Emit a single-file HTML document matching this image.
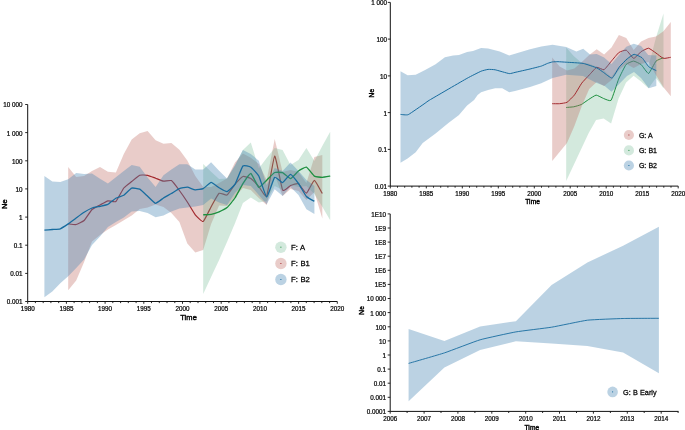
<!DOCTYPE html>
<html><head><meta charset="utf-8"><title>Ne through time</title>
<style>html,body{margin:0;padding:0;background:#fff}svg{display:block}text{font-family:"Liberation Sans",sans-serif;fill:#000;stroke:#000;stroke-width:0.22px}</style>
</head><body>
<svg width="685" height="430" viewBox="0 0 685 430">
<rect width="685" height="430" fill="#fff"/>
<polygon points="68.2,167.0 76.2,177.0 84.1,176.0 92.0,171.0 100.0,167.0 107.9,171.7 115.9,172.5 123.8,154.0 131.7,139.5 139.7,133.3 147.6,131.0 155.6,140.3 163.5,143.8 171.4,143.1 179.4,149.8 187.3,160.5 195.3,176.0 203.2,187.0 211.1,187.0 219.1,183.0 227.0,178.4 235.0,162.5 242.9,153.5 250.8,157.8 258.8,164.0 266.7,180.0 274.7,139.0 282.6,172.0 290.5,170.0 298.5,172.0 306.4,183.0 314.4,157.0 322.3,155.1 322.3,218.5 314.4,192.0 306.4,200.0 298.5,191.0 290.5,189.0 282.6,196.0 274.7,175.0 266.7,205.0 258.8,198.0 250.8,190.0 242.9,188.0 235.0,197.0 227.0,206.0 219.1,205.5 211.1,224.0 203.2,250.0 195.3,252.6 187.3,243.5 179.4,222.0 171.4,213.0 163.5,207.0 155.6,204.5 147.6,207.5 139.7,209.0 131.7,215.5 123.8,220.3 115.9,225.0 107.9,229.5 100.0,235.0 92.0,241.5 84.1,262.0 76.2,280.4 68.2,290.2" fill="rgba(190,105,96,0.34)"/>
<path d="M68.22 223.90C68.75 223.94 75.10 224.73 76.16 224.50C77.22 224.27 83.04 221.50 84.10 220.50C85.16 219.50 90.98 210.53 92.04 209.50C93.10 208.47 98.92 205.58 99.98 205.00C101.04 204.42 106.86 201.03 107.92 200.80C108.98 200.57 114.80 202.35 115.86 201.50C116.92 200.65 122.74 189.33 123.80 188.00C124.86 186.67 130.68 182.35 131.74 181.50C132.80 180.65 138.62 175.61 139.68 175.20C140.74 174.79 146.56 175.10 147.62 175.30C148.68 175.50 154.50 177.81 155.56 178.20C156.62 178.59 162.44 181.04 163.50 181.20C164.56 181.36 170.38 179.98 171.44 180.60C172.50 181.22 178.32 189.07 179.38 190.50C180.44 191.93 186.26 200.38 187.32 202.00C188.38 203.62 194.20 213.50 195.26 214.80C196.32 216.10 202.14 222.04 203.20 221.50C204.26 220.96 210.08 208.58 211.14 206.70C212.20 204.82 218.02 194.08 219.08 193.30C220.14 192.52 225.96 195.59 227.02 195.00C228.08 194.41 233.90 185.63 234.96 184.40C236.02 183.17 241.84 176.89 242.90 176.50C243.96 176.11 249.78 177.83 250.84 178.50C251.90 179.17 257.72 185.33 258.78 186.50C259.84 187.67 265.66 198.03 266.72 196.00C267.78 193.97 273.60 156.40 274.66 156.00C275.72 155.60 281.54 188.03 282.60 190.00C283.66 191.97 289.48 185.91 290.54 185.50C291.60 185.09 297.42 183.29 298.48 183.80C299.54 184.31 305.36 193.43 306.42 193.20C307.48 192.97 313.30 180.28 314.36 180.30C315.42 180.32 321.77 192.62 322.30 193.50" fill="none" stroke="#a3292e" stroke-width="1.2" stroke-linejoin="round"/>
<polygon points="203.2,164.1 211.1,171.7 219.1,178.9 227.0,178.4 235.0,166.0 242.9,150.0 250.8,142.5 258.8,168.4 266.7,158.1 274.7,147.9 282.6,150.0 290.5,165.0 298.5,160.0 306.4,148.1 314.4,161.0 322.3,146.0 330.2,131.7 330.2,220.2 322.3,206.8 314.4,194.0 306.4,186.0 298.5,187.0 290.5,185.0 282.6,190.0 274.7,186.0 266.7,201.0 258.8,202.6 250.8,197.5 242.9,203.0 235.0,223.3 227.0,242.0 219.1,260.0 211.1,277.0 203.2,294.0" fill="rgba(98,176,132,0.28)"/>
<path d="M203.20 214.80C203.73 214.77 210.08 214.50 211.14 214.30C212.20 214.10 218.02 212.25 219.08 211.80C220.14 211.35 225.96 208.52 227.02 207.60C228.08 206.68 233.90 199.60 234.96 198.00C236.02 196.40 241.84 185.23 242.90 183.60C243.96 181.97 249.78 173.25 250.84 173.50C251.90 173.75 257.72 186.85 258.78 187.30C259.84 187.75 265.66 181.19 266.72 180.20C267.78 179.21 273.60 173.00 274.66 172.50C275.72 172.00 281.54 172.29 282.60 172.70C283.66 173.11 289.48 178.71 290.54 178.60C291.60 178.49 297.42 171.76 298.48 171.00C299.54 170.24 305.36 166.86 306.42 167.20C307.48 167.54 313.30 175.42 314.36 176.10C315.42 176.78 321.24 177.40 322.30 177.40C323.36 177.40 329.71 176.19 330.24 176.10" fill="none" stroke="#1c8f3e" stroke-width="1.3" stroke-linejoin="round"/>
<polygon points="44.4,175.9 52.3,181.5 60.3,182.0 68.2,179.2 76.2,172.9 84.1,174.1 92.0,173.4 100.0,178.8 107.9,183.5 115.9,177.3 123.8,170.9 131.7,165.0 139.7,166.8 147.6,177.5 155.6,186.9 163.5,175.2 171.4,169.4 179.4,164.3 187.3,164.3 195.3,169.4 203.2,169.4 211.1,162.3 219.1,170.7 227.0,178.4 235.0,165.0 242.9,150.0 250.8,154.0 258.8,160.7 266.7,185.0 274.7,168.0 282.6,171.0 290.5,162.5 298.5,171.0 306.4,180.0 314.4,185.9 314.4,213.9 306.4,209.3 298.5,195.1 290.5,187.0 282.6,196.0 274.7,189.2 266.7,204.3 258.8,195.0 250.8,186.0 242.9,185.0 235.0,193.0 227.0,205.0 219.1,202.5 211.1,198.4 203.2,205.0 195.3,206.5 187.3,207.6 179.4,208.4 171.4,211.5 163.5,215.5 155.6,217.3 147.6,213.0 139.7,211.0 131.7,211.5 123.8,217.6 115.9,222.0 107.9,227.0 100.0,236.5 92.0,245.0 84.1,259.5 76.2,268.0 68.2,276.2 60.3,283.2 52.3,291.6 44.4,297.2" fill="rgba(70,134,179,0.37)"/>
<path d="M44.40 230.20C44.93 230.15 51.28 229.59 52.34 229.50C53.40 229.41 59.22 229.17 60.28 228.80C61.34 228.43 67.16 224.62 68.22 223.90C69.28 223.18 75.10 218.77 76.16 218.00C77.22 217.23 83.04 212.97 84.10 212.30C85.16 211.63 90.98 208.40 92.04 208.00C93.10 207.60 98.92 206.54 99.98 206.30C101.04 206.06 106.86 204.94 107.92 204.40C108.98 203.86 114.80 198.81 115.86 198.20C116.92 197.59 122.74 195.87 123.80 195.20C124.86 194.53 130.68 188.50 131.74 188.10C132.80 187.70 138.62 188.66 139.68 189.20C140.74 189.74 146.56 195.26 147.62 196.20C148.68 197.14 154.50 203.18 155.56 203.30C156.62 203.42 162.44 198.65 163.50 198.00C164.56 197.35 170.38 194.13 171.44 193.50C172.50 192.87 178.32 189.02 179.38 188.60C180.44 188.18 186.26 187.11 187.32 187.20C188.38 187.29 194.20 189.81 195.26 189.90C196.32 189.99 202.14 189.10 203.20 188.60C204.26 188.10 210.08 182.46 211.14 182.40C212.20 182.34 218.02 187.09 219.08 187.70C220.14 188.31 225.96 191.82 227.02 191.60C228.08 191.38 233.90 186.11 234.96 184.40C236.02 182.69 241.84 167.15 242.90 166.00C243.96 164.85 249.78 166.53 250.84 167.20C251.90 167.87 257.72 174.01 258.78 176.00C259.84 177.99 265.66 196.91 266.72 197.00C267.78 197.09 273.60 178.26 274.66 177.30C275.72 176.34 281.54 182.80 282.60 182.60C283.66 182.40 289.48 174.24 290.54 174.30C291.60 174.36 297.42 182.02 298.48 183.50C299.54 184.98 305.36 195.31 306.42 196.50C307.48 197.69 313.83 200.98 314.36 201.30" fill="none" stroke="#176c9f" stroke-width="1.3" stroke-linejoin="round"/>
<polygon points="566.2,47.5 573.7,56.0 581.2,62.5 588.7,63.5 596.1,66.5 603.6,70.0 611.1,77.0 618.6,67.5 626.1,58.4 633.6,54.3 641.1,57.2 648.5,66.5 656.0,37.5 663.5,13.4 663.5,88.3 656.0,78.1 648.5,88.3 641.1,81.5 633.6,75.8 626.1,82.6 618.6,98.5 611.1,123.4 603.6,118.4 596.1,120.0 588.7,133.0 581.2,149.0 573.7,165.0 566.2,180.9" fill="rgba(98,176,132,0.28)"/>
<path d="M566.20 107.50C566.70 107.45 572.69 106.99 573.69 106.80C574.68 106.61 580.17 105.09 581.17 104.60C582.17 104.11 587.66 100.13 588.66 99.50C589.65 98.87 595.14 95.17 596.14 95.10C597.14 95.03 602.63 98.15 603.62 98.50C604.62 98.85 610.11 101.59 611.11 100.30C612.11 99.01 617.60 81.59 618.60 79.20C619.59 76.81 625.08 65.71 626.08 64.50C627.08 63.29 632.57 61.10 633.57 61.10C634.56 61.10 640.05 63.67 641.05 64.50C642.05 65.33 647.54 73.73 648.54 73.50C649.53 73.27 655.02 62.15 656.02 61.10C657.02 60.05 663.01 57.93 663.51 57.70" fill="none" stroke="#1c8f3e" stroke-width="1.0" stroke-linejoin="round"/>
<polygon points="552.2,57.4 559.6,66.5 567.0,70.5 574.4,68.5 581.8,62.0 589.2,55.0 596.7,49.3 604.1,54.4 611.5,47.5 618.9,35.1 626.3,38.0 633.7,50.0 641.1,41.5 648.5,38.0 655.9,36.5 663.4,31.3 670.8,21.9 670.8,96.2 663.4,87.2 655.9,75.0 648.5,62.0 641.1,64.0 633.7,68.0 626.3,64.0 618.9,70.0 611.5,80.0 604.1,86.0 596.7,82.0 589.2,89.0 581.8,106.0 574.4,126.0 567.0,143.0 559.6,152.0 552.2,161.0" fill="rgba(190,105,96,0.34)"/>
<path d="M552.20 103.70C552.69 103.70 558.62 103.79 559.61 103.70C560.60 103.61 566.03 102.88 567.02 102.30C568.01 101.72 573.44 96.29 574.43 95.00C575.42 93.71 580.85 84.33 581.84 83.00C582.83 81.67 588.26 76.05 589.25 75.00C590.24 73.95 595.67 67.65 596.66 67.30C597.65 66.95 603.08 70.12 604.07 69.70C605.06 69.28 610.49 62.15 611.48 61.00C612.47 59.85 617.90 53.22 618.89 52.50C619.88 51.78 625.31 49.81 626.30 50.20C627.29 50.59 632.72 58.31 633.71 58.40C634.70 58.49 640.13 52.28 641.12 51.60C642.11 50.92 647.54 48.11 648.53 48.20C649.52 48.29 654.95 52.32 655.94 53.00C656.93 53.68 662.36 58.11 663.35 58.40C664.34 58.69 670.27 57.37 670.76 57.30" fill="none" stroke="#a3292e" stroke-width="1.0" stroke-linejoin="round"/>
<polygon points="400.5,71.2 407.6,75.2 415.7,74.7 425.1,70.1 435.6,64.2 444.9,57.2 453.1,55.6 459.0,54.9 467.1,51.9 473.0,50.9 481.1,47.9 488.1,48.6 499.8,51.4 509.2,55.4 515.0,53.7 530.0,49.3 541.3,46.4 552.6,44.8 566.2,47.1 576.4,51.6 583.2,48.7 590.0,54.5 596.7,54.0 604.1,57.5 611.5,63.9 618.9,54.9 626.3,46.7 633.7,43.8 641.1,46.1 648.2,54.9 656.3,55.4 656.3,86.0 648.8,88.3 641.0,78.0 634.0,72.0 627.0,76.0 619.4,83.8 611.5,91.7 604.7,86.0 595.6,82.6 583.0,76.0 566.2,74.7 552.6,77.9 541.3,83.2 530.0,87.1 515.0,91.1 509.2,92.3 502.2,88.3 495.2,88.3 488.1,89.9 481.1,92.3 477.6,95.0 474.1,100.0 467.1,105.5 459.0,114.9 448.4,123.0 435.6,133.5 422.7,142.9 415.7,152.2 407.6,158.5 400.5,162.7" fill="rgba(70,134,179,0.37)"/>
<path d="M400.50 114.40C401.02 114.41 406.66 115.35 408.30 114.60C409.94 113.85 423.67 104.17 425.10 103.20C426.53 102.23 426.90 101.66 429.70 100.00C432.50 98.34 463.67 80.22 467.10 78.30C470.53 76.38 479.70 71.79 481.10 71.20C482.50 70.61 487.16 69.49 488.10 69.40C489.04 69.31 493.79 69.52 495.20 69.80C496.61 70.08 507.88 73.43 509.20 73.60C510.52 73.77 513.61 72.71 515.00 72.40C516.39 72.09 528.25 69.42 530.00 69.00C531.75 68.58 540.13 66.47 541.30 66.10C542.47 65.73 546.75 63.68 547.50 63.40C548.25 63.12 551.90 62.01 552.60 61.90C553.30 61.79 557.09 61.68 558.00 61.70C558.91 61.72 564.52 62.09 566.20 62.20C567.88 62.31 581.16 63.02 583.20 63.40C585.24 63.78 595.45 67.30 596.80 67.90C598.15 68.50 602.48 71.72 603.50 72.40C604.52 73.08 611.04 78.47 612.10 78.10C613.16 77.73 618.39 68.09 619.40 66.80C620.41 65.51 626.32 59.63 627.30 58.80C628.28 57.97 633.12 54.37 634.10 54.30C635.08 54.23 641.02 56.87 642.00 57.70C642.98 58.53 647.85 65.94 648.80 66.80C649.75 67.66 655.80 70.35 656.30 70.60" fill="none" stroke="#176c9f" stroke-width="1.0" stroke-linejoin="round"/>
<polygon points="408.6,328.9 444.4,341.0 480.1,326.5 515.9,321.2 551.6,285.1 587.4,262.4 623.1,245.8 658.9,226.7 658.9,373.2 623.1,352.4 587.4,345.9 551.6,343.5 515.9,341.3 480.1,349.9 444.4,367.4 408.6,401.2" fill="rgba(70,134,179,0.37)"/>
<path d="M408.60 363.40C410.99 362.70 439.63 354.47 444.40 352.90C449.17 351.33 475.33 341.20 480.10 339.80C484.87 338.40 511.13 332.74 515.90 331.90C520.67 331.06 546.83 327.98 551.60 327.20C556.37 326.42 582.63 320.78 587.40 320.20C592.17 319.62 618.33 318.63 623.10 318.50C627.87 318.37 656.51 318.31 658.90 318.30" fill="none" stroke="#176c9f" stroke-width="0.9" stroke-linejoin="round"/>
<path d="M27.7 104.5V301.5H337.3" fill="none" stroke="#111" stroke-width="1"/>
<path d="M27.7 104.5h-2.5M27.7 132.6h-2.5M27.7 160.8h-2.5M27.7 188.9h-2.5M27.7 217.1h-2.5M27.7 245.2h-2.5M27.7 273.4h-2.5M27.7 301.5h-2.5M27.7 301.5v2.3M35.4 301.5v1.6M43.2 301.5v1.6M50.9 301.5v1.6M58.7 301.5v1.6M66.4 301.5v2.3M74.1 301.5v1.6M81.9 301.5v1.6M89.6 301.5v1.6M97.4 301.5v1.6M105.1 301.5v2.3M112.8 301.5v1.6M120.6 301.5v1.6M128.3 301.5v1.6M136.1 301.5v1.6M143.8 301.5v2.3M151.5 301.5v1.6M159.3 301.5v1.6M167.0 301.5v1.6M174.8 301.5v1.6M182.5 301.5v2.3M190.2 301.5v1.6M198.0 301.5v1.6M205.7 301.5v1.6M213.5 301.5v1.6M221.2 301.5v2.3M228.9 301.5v1.6M236.7 301.5v1.6M244.4 301.5v1.6M252.2 301.5v1.6M259.9 301.5v2.3M267.6 301.5v1.6M275.4 301.5v1.6M283.1 301.5v1.6M290.9 301.5v1.6M298.6 301.5v2.3M306.3 301.5v1.6M314.1 301.5v1.6M321.8 301.5v1.6M329.6 301.5v1.6M337.3 301.5v2.3" fill="none" stroke="#111" stroke-width="0.9"/>
<path d="M390.3 2.4V186.1H678.2" fill="none" stroke="#111" stroke-width="1"/>
<path d="M390.3 2.4h-2.5M390.3 39.1h-2.5M390.3 75.9h-2.5M390.3 112.6h-2.5M390.3 149.4h-2.5M390.3 186.1h-2.5M390.3 186.1v2.3M397.5 186.1v1.6M404.7 186.1v1.6M411.9 186.1v1.6M419.1 186.1v1.6M426.3 186.1v2.3M433.5 186.1v1.6M440.7 186.1v1.6M447.9 186.1v1.6M455.1 186.1v1.6M462.3 186.1v2.3M469.5 186.1v1.6M476.7 186.1v1.6M483.9 186.1v1.6M491.1 186.1v1.6M498.3 186.1v2.3M505.5 186.1v1.6M512.7 186.1v1.6M519.9 186.1v1.6M527.1 186.1v1.6M534.3 186.1v2.3M541.5 186.1v1.6M548.7 186.1v1.6M555.9 186.1v1.6M563.1 186.1v1.6M570.2 186.1v2.3M577.4 186.1v1.6M584.6 186.1v1.6M591.8 186.1v1.6M599.0 186.1v1.6M606.2 186.1v2.3M613.4 186.1v1.6M620.6 186.1v1.6M627.8 186.1v1.6M635.0 186.1v1.6M642.2 186.1v2.3M649.4 186.1v1.6M656.6 186.1v1.6M663.8 186.1v1.6M671.0 186.1v1.6M678.2 186.1v2.3" fill="none" stroke="#111" stroke-width="0.9"/>
<path d="M390.2 213.9V411.4H678.5" fill="none" stroke="#111" stroke-width="1"/>
<path d="M390.2 213.9h-2.5M390.2 228.0h-2.5M390.2 242.1h-2.5M390.2 256.2h-2.5M390.2 270.3h-2.5M390.2 284.4h-2.5M390.2 298.5h-2.5M390.2 312.6h-2.5M390.2 326.8h-2.5M390.2 340.9h-2.5M390.2 355.0h-2.5M390.2 369.1h-2.5M390.2 383.2h-2.5M390.2 397.3h-2.5M390.2 411.4h-2.5M390.2 411.4v2.3M407.1 411.4v1.6M424.1 411.4v2.3M441.0 411.4v1.6M457.9 411.4v2.3M474.9 411.4v1.6M491.8 411.4v2.3M508.7 411.4v1.6M525.7 411.4v2.3M542.6 411.4v1.6M559.5 411.4v2.3M576.5 411.4v1.6M593.4 411.4v2.3M610.4 411.4v1.6M627.3 411.4v2.3M644.2 411.4v1.6M661.2 411.4v2.3M678.1 411.4v1.6" fill="none" stroke="#111" stroke-width="0.9"/>
<circle cx="280.9" cy="247.2" r="5.7" fill="rgba(98,176,132,0.28)"/>
<path d="M280.4 247.2h1.0" stroke="#1c8f3e" stroke-width="1"/>
<circle cx="280.9" cy="263.5" r="5.7" fill="rgba(190,105,96,0.34)"/>
<path d="M280.4 263.5h1.0" stroke="#a3292e" stroke-width="1"/>
<circle cx="280.9" cy="279.5" r="5.7" fill="rgba(70,134,179,0.37)"/>
<path d="M280.4 279.5h1.0" stroke="#176c9f" stroke-width="1"/>
<circle cx="628.9" cy="135.0" r="5.1" fill="rgba(190,105,96,0.34)"/>
<path d="M628.4 135.0h1.0" stroke="#a3292e" stroke-width="1"/>
<circle cx="628.9" cy="150.4" r="5.1" fill="rgba(98,176,132,0.28)"/>
<path d="M628.4 150.4h1.0" stroke="#1c8f3e" stroke-width="1"/>
<circle cx="628.9" cy="165.5" r="5.1" fill="rgba(70,134,179,0.37)"/>
<path d="M628.4 165.5h1.0" stroke="#176c9f" stroke-width="1"/>
<circle cx="612.6" cy="391.9" r="5.3" fill="rgba(70,134,179,0.37)"/>
<path d="M612.1 391.9h1.0" stroke="#176c9f" stroke-width="1"/>
<g opacity="0.99"><text x="22.4" y="107.4" font-size="6.3" text-anchor="end">10 000</text>
<text x="22.4" y="135.5" font-size="6.3" text-anchor="end">1 000</text>
<text x="22.4" y="163.7" font-size="6.3" text-anchor="end">100</text>
<text x="22.4" y="191.8" font-size="6.3" text-anchor="end">10</text>
<text x="22.4" y="220.0" font-size="6.3" text-anchor="end">1</text>
<text x="22.4" y="248.1" font-size="6.3" text-anchor="end">0.1</text>
<text x="22.4" y="276.3" font-size="6.3" text-anchor="end">0.01</text>
<text x="22.4" y="304.4" font-size="6.3" text-anchor="end">0.001</text>
<text x="27.7" y="311.1" font-size="6.3" text-anchor="middle">1980</text>
<text x="66.4" y="311.1" font-size="6.3" text-anchor="middle">1985</text>
<text x="105.1" y="311.1" font-size="6.3" text-anchor="middle">1990</text>
<text x="143.8" y="311.1" font-size="6.3" text-anchor="middle">1995</text>
<text x="182.5" y="311.1" font-size="6.3" text-anchor="middle">2000</text>
<text x="221.2" y="311.1" font-size="6.3" text-anchor="middle">2005</text>
<text x="259.9" y="311.1" font-size="6.3" text-anchor="middle">2010</text>
<text x="298.6" y="311.1" font-size="6.3" text-anchor="middle">2015</text>
<text x="337.3" y="311.1" font-size="6.3" text-anchor="middle">2020</text>
<text x="188.6" y="320.1" font-size="7.5" text-anchor="middle" style="stroke-width:0.42px" letter-spacing="0.1">Time</text>
<text x="7.3" y="204.0" font-size="7.5" text-anchor="middle" style="stroke-width:0.42px" letter-spacing="0.1" transform="rotate(-90 7.3 204.0)">Ne</text>
<text x="386.9" y="5.3" font-size="6.3" text-anchor="end">1 000</text>
<text x="386.9" y="42.0" font-size="6.3" text-anchor="end">100</text>
<text x="386.9" y="78.8" font-size="6.3" text-anchor="end">10</text>
<text x="386.9" y="115.5" font-size="6.3" text-anchor="end">1</text>
<text x="386.9" y="152.3" font-size="6.3" text-anchor="end">0.1</text>
<text x="386.9" y="189.0" font-size="6.3" text-anchor="end">0.01</text>
<text x="390.3" y="195.8" font-size="6.3" text-anchor="middle">1980</text>
<text x="426.3" y="195.8" font-size="6.3" text-anchor="middle">1985</text>
<text x="462.3" y="195.8" font-size="6.3" text-anchor="middle">1990</text>
<text x="498.3" y="195.8" font-size="6.3" text-anchor="middle">1995</text>
<text x="534.3" y="195.8" font-size="6.3" text-anchor="middle">2000</text>
<text x="570.2" y="195.8" font-size="6.3" text-anchor="middle">2005</text>
<text x="606.2" y="195.8" font-size="6.3" text-anchor="middle">2010</text>
<text x="642.2" y="195.8" font-size="6.3" text-anchor="middle">2015</text>
<text x="678.2" y="195.8" font-size="6.3" text-anchor="middle">2020</text>
<text x="532.6" y="204.1" font-size="6.6" text-anchor="middle" style="stroke-width:0.42px" letter-spacing="0.1">Time</text>
<text x="374.2" y="93.1" font-size="6.6" text-anchor="middle" style="stroke-width:0.42px" letter-spacing="0.1" transform="rotate(-90 374.2 93.1)">Ne</text>
<text x="386.0" y="216.8" font-size="6.3" text-anchor="end">1E10</text>
<text x="386.0" y="230.9" font-size="6.3" text-anchor="end">1E9</text>
<text x="386.0" y="245.0" font-size="6.3" text-anchor="end">1E8</text>
<text x="386.0" y="259.1" font-size="6.3" text-anchor="end">1E7</text>
<text x="386.0" y="273.2" font-size="6.3" text-anchor="end">1E6</text>
<text x="386.0" y="287.3" font-size="6.3" text-anchor="end">1E5</text>
<text x="386.0" y="301.4" font-size="6.3" text-anchor="end">10 000</text>
<text x="386.0" y="315.5" font-size="6.3" text-anchor="end">1 000</text>
<text x="386.0" y="329.7" font-size="6.3" text-anchor="end">100</text>
<text x="386.0" y="343.8" font-size="6.3" text-anchor="end">10</text>
<text x="386.0" y="357.9" font-size="6.3" text-anchor="end">1</text>
<text x="386.0" y="372.0" font-size="6.3" text-anchor="end">0.1</text>
<text x="386.0" y="386.1" font-size="6.3" text-anchor="end">0.01</text>
<text x="386.0" y="400.2" font-size="6.3" text-anchor="end">0.001</text>
<text x="386.0" y="414.3" font-size="6.3" text-anchor="end">0.0001</text>
<text x="390.2" y="420.9" font-size="6.3" text-anchor="middle">2006</text>
<text x="424.1" y="420.9" font-size="6.3" text-anchor="middle">2007</text>
<text x="457.9" y="420.9" font-size="6.3" text-anchor="middle">2008</text>
<text x="491.8" y="420.9" font-size="6.3" text-anchor="middle">2009</text>
<text x="525.7" y="420.9" font-size="6.3" text-anchor="middle">2010</text>
<text x="559.5" y="420.9" font-size="6.3" text-anchor="middle">2011</text>
<text x="593.4" y="420.9" font-size="6.3" text-anchor="middle">2012</text>
<text x="627.3" y="420.9" font-size="6.3" text-anchor="middle">2013</text>
<text x="661.2" y="420.9" font-size="6.3" text-anchor="middle">2014</text>
<text x="531.9" y="430.2" font-size="6.6" text-anchor="middle" style="stroke-width:0.42px" letter-spacing="0.1">Time</text>
<text x="363.9" y="310.4" font-size="6.6" text-anchor="middle" style="stroke-width:0.42px" letter-spacing="0.1" transform="rotate(-90 363.9 310.4)">Ne</text>
<text style="stroke-width:0.26px" word-spacing="0.5" x="291.0" y="250.0" font-size="7.7" text-anchor="start">F: A</text>
<text style="stroke-width:0.26px" word-spacing="0.5" x="291.0" y="266.3" font-size="7.7" text-anchor="start">F: B1</text>
<text style="stroke-width:0.26px" word-spacing="0.5" x="291.0" y="282.3" font-size="7.7" text-anchor="start">F: B2</text>
<text style="stroke-width:0.26px" word-spacing="0.2" x="638.9" y="137.5" font-size="7.0" text-anchor="start">G: A</text>
<text style="stroke-width:0.26px" word-spacing="0.2" x="638.9" y="152.9" font-size="7.0" text-anchor="start">G: B1</text>
<text style="stroke-width:0.26px" word-spacing="0.2" x="638.9" y="168.0" font-size="7.0" text-anchor="start">G: B2</text>
<text style="stroke-width:0.26px" word-spacing="0.2" x="623.1" y="394.5" font-size="7.25" text-anchor="start">G: B Early</text></g>
</svg>
</body></html>
